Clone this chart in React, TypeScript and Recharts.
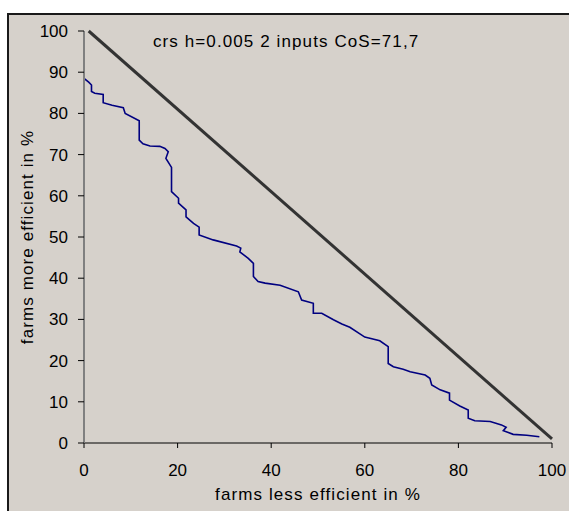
import { LineChart, Line, XAxis, YAxis } from 'recharts'

// frontier curve
const curveX = [0, 0, 1, 1.6, 1.6, 2.3, 4.1, 4.1, 6, 8.4, 8.8, 11.8, 11.8, 12.6, 14.1, 16.2, 17.3, 18, 17.5, 18.7, 18.7, 20.2, 20.2, 21.8, 21.8, 23.4, 24.6, 24.6, 27.6, 32.6, 33.5, 33.3, 35.1, 36.2, 36.2, 37.2, 38.7, 41.9, 45.8, 46.5, 49, 49, 50.8, 53.3, 55.1, 56.8, 60, 61.5, 63.2, 65, 65, 66.1, 68.2, 69.7, 72.9, 73.9, 74.3, 76.1, 78.1, 78.1, 80.3, 82.1, 82.1, 83.5, 86.8, 89.2, 90.2, 89.6, 91.7, 94.6, 97.3]
const curveY = [100, 88.5, 87.6, 86.9, 85.3, 84.9, 84.6, 82.6, 82, 81.4, 80, 78.2, 73.5, 72.6, 72.1, 72, 71.5, 70.7, 69.1, 66.9, 61, 59.4, 58.2, 56.6, 54.9, 53.3, 52.4, 50.5, 49.3, 47.8, 47.3, 46.4, 44.8, 43.6, 40.4, 39.2, 38.8, 38.3, 36.7, 34.7, 33.9, 31.5, 31.5, 29.9, 28.9, 28.1, 25.7, 25.3, 24.8, 23.4, 19.3, 18.5, 17.9, 17.3, 16.5, 15.7, 14.1, 12.9, 12.1, 10.4, 9, 8, 6, 5.4, 5.2, 4.4, 3.8, 3, 2.1, 1.9, 1.5]

const diagX = [1, 100]
const diagY = [100, 1]

const xTicks = [0, 20, 40, 60, 80, 100]
const yTicks = [0, 10, 20, 30, 40, 50, 60, 70, 80, 90, 100]

const title = 'crs h=0.005 2 inputs CoS=71,7'
const xTitle = 'farms less efficient in %'
const yTitle = 'farms more efficient in %'

const FONT = '"Liberation Sans", Arial, sans-serif'

const curveData = curveX.map((x, i) => ({ x, y: curveY[i] }))
const diagData = diagX.map((x, i) => ({ x, y: diagY[i] }))

function YTitle(props: any) {
  const vb = props.viewBox
  const cx = vb.x + 27
  const cy = vb.y + vb.height / 2
  return (
    <text
      x={cx} y={cy}
      transform={`rotate(-90 ${cx} ${cy})`}
      textAnchor="middle" dominantBaseline="central"
      fontSize={17} fill="#000" letterSpacing={1.1} fontFamily={FONT}
    >
      {yTitle}
    </text>
  )
}

export default function App() {
  return (
    <div style={{ position: 'absolute', left: 0, top: 0, width: 569, height: 511, background: '#fff', overflow: 'hidden' }}>
      <div style={{
        position: 'absolute', left: 7, top: 13, width: 580, height: 520,
        background: '#d6d1cb', borderLeft: '2px solid #1a1a1a', borderTop: '2px solid #1a1a1a',
      }} />
      <div style={{ position: 'absolute', left: 0, top: 0 }}>
        <LineChart width={569} height={511} margin={{ top: 31, right: 17, left: 0, bottom: 8 }}>
          <XAxis
            dataKey="x" type="number" domain={[0, 100]} ticks={xTicks} interval={0}
            height={60}
            axisLine={{ stroke: '#000', strokeWidth: 1 }}
            tickLine={{ stroke: '#000' }}
            tickSize={5} tickMargin={16}
            tick={{ fontSize: 17, fill: '#000', fontFamily: FONT }}
            label={{ value: xTitle, position: 'insideBottom', offset: 3, fontSize: 17, fill: '#000', fontFamily: FONT, letterSpacing: 1.1 }}
          />
          <YAxis
            type="number" domain={[0, 100]} ticks={yTicks} interval={0}
            width={84}
            axisLine={{ stroke: '#808080', strokeWidth: 2 }}
            tickLine={{ stroke: '#000' }}
            tickSize={6} tickMargin={10}
            tick={{ fontSize: 17, fill: '#000', fontFamily: FONT }}
            label={{ content: YTitle }}
          />
          <Line data={diagData} dataKey="y" stroke="#333333" strokeWidth={3} dot={false} activeDot={false} isAnimationActive={false} type="linear" />
          <Line data={curveData} dataKey="y" stroke="#000080" strokeWidth={1.6} dot={false} activeDot={false} isAnimationActive={false} type="linear" />
        </LineChart>
      </div>
      <div style={{
        position: 'absolute', left: 153, top: 33, fontSize: 17, lineHeight: '17px',
        fontFamily: FONT, letterSpacing: 1.1, color: '#000', whiteSpace: 'nowrap',
      }}>
        {title}
      </div>
    </div>
  )
}
